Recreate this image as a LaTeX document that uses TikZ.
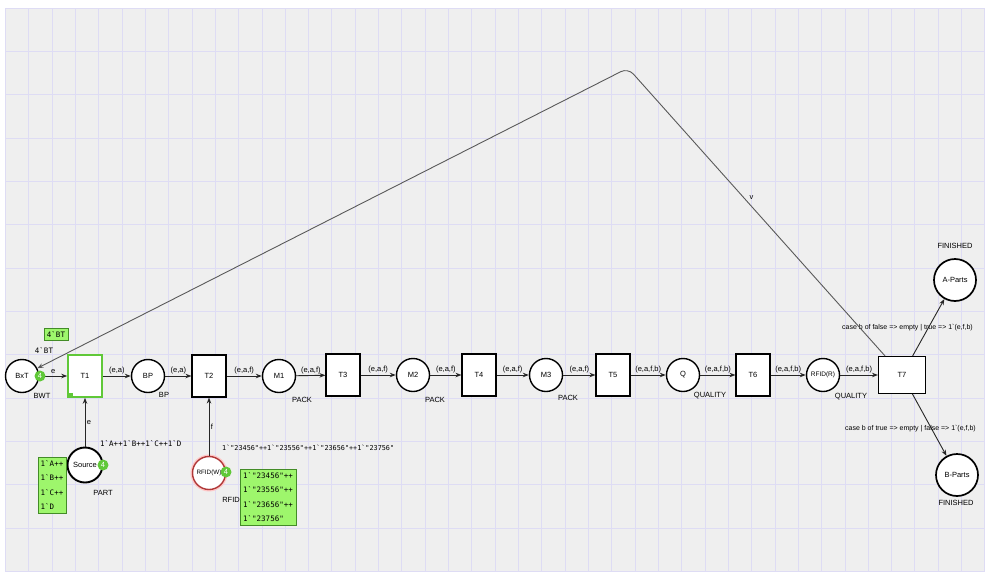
\documentclass[tikz,border=0pt]{standalone}
\usepackage{fontspec}
\setmainfont{Liberation Sans}
\setmonofont{DejaVu Sans Mono}
\usetikzlibrary{arrows.meta}

\definecolor{sheet-gray}{RGB}{239,239,239}
\definecolor{grid-lilac}{RGB}{222,220,244}
\definecolor{token-green}{RGB}{96,200,56}
\definecolor{marking-green}{RGB}{158,246,108}
\definecolor{rfid-red}{RGB}{176,56,56}

\newcommand{\cpnsans}{\fontsize{7.5}{8.5}\selectfont}
\newcommand{\cpnmono}{\ttfamily\fontsize{7.5}{14.5}\selectfont}
\newcommand{\bq}{\textasciigrave}

\tikzset{
    sheet-grid/.style = {draw=grid-lilac, line width=1pt},
    place-circle/.style = {draw, circle, fill=white, line width=1.4pt, minimum size=33pt, inner sep=0pt, font=\cpnsans},
    trans-box/.style = {draw, rectangle, fill=white, line width=1.1pt, minimum width=34pt, minimum height=42pt, inner sep=0pt, font=\cpnsans},
    token-dot/.style = {circle, fill=token-green, minimum size=11pt, inner sep=0pt, text=white, font=\cpnsans},
    marking-box/.style = {draw=token-green!70!black, fill=marking-green, thin, rectangle, inner sep=3pt, align=left, font=\cpnmono},
    arc-label/.style = {font=\cpnsans, inner sep=1.5pt},
    cs-label/.style = {font=\cpnsans, inner sep=0pt},
    init-label/.style = {font=\cpnmono, inner sep=0pt},
    arc-line/.style = {draw=black!85, line width=0.9pt, -{Stealth[length=6pt, width=4.5pt]}},
}

\begin{document}
\begin{tikzpicture}[x=1pt, y=-1pt]
\useasboundingbox (0,0) rectangle (991,581);
% sheet with grid
\fill[white] (0,0) rectangle (991,581);
\fill[sheet-gray] (5.5,8) rectangle (985,572);
\foreach \i in {0,...,42}
    \draw[sheet-grid] (5.5+\i*23.32,8) -- (5.5+\i*23.32,572);
\foreach \j in {0,...,13}
    \draw[sheet-grid] (5.5,8+\j*43.36) -- (985,8+\j*43.36);

% places and transitions
\node[place-circle] (bxt) at (22,376) {BxT};
\node[trans-box, draw=token-green, line width=1.6pt] (t1) at (85,376) {T1};
\fill[token-green] (t1.south west) rectangle ++(6,-5);
\node[place-circle] (bp) at (148,376) {BP};
\node[trans-box] (t2) at (209,376) {T2};
\node[place-circle] (m1) at (279,376) {M1};
\node[trans-box] (t3) at (343,375) {T3};
\node[place-circle] (m2) at (413,375) {M2};
\node[trans-box] (t4) at (479,375) {T4};
\node[place-circle] (m3) at (546,375) {M3};
\node[trans-box] (t5) at (613,375) {T5};
\node[place-circle] (q) at (683,375) {Q};
\node[trans-box] (t6) at (753,375) {T6};
\node[place-circle, font=\fontsize{6.5}{7}\selectfont] (rfidr) at (823,375) {RFID(R)};
\node[trans-box, minimum width=47pt, minimum height=37pt] (t7) at (902,375) {T7};
\node[place-circle, minimum size=42pt, line width=1.7pt] (aparts) at (955,280) {A-Parts};
\node[place-circle, minimum size=42pt, line width=1.7pt] (bparts) at (957,475) {B-Parts};
\node[place-circle, minimum size=35pt, line width=1.9pt] (source) at (85,465) {Source};
\node[place-circle, minimum size=33pt, draw=rfid-red, font=\fontsize{6.3}{7}\selectfont, preaction={draw=red!22, line width=4pt}] (rfidw) at (209,473) {RFID(W)};

% colour sets
\node[cs-label] (cs-bxt) at ([xshift=20pt, yshift=-20pt]bxt) {BWT};
\node[cs-label] (cs-bp) at ([xshift=16pt, yshift=-19pt]bp) {BP};
\node[cs-label] (cs-m1) at ([xshift=23pt, yshift=-24pt]m1) {PACK};
\node[cs-label] (cs-m2) at ([xshift=22pt, yshift=-25pt]m2) {PACK};
\node[cs-label] (cs-m3) at ([xshift=22pt, yshift=-23pt]m3) {PACK};
\node[cs-label] (cs-q) at ([xshift=27pt, yshift=-21pt]q) {QUALITY};
\node[cs-label] (cs-rfidr) at ([xshift=28pt, yshift=-22pt]rfidr) {QUALITY};
\node[cs-label] (cs-aparts) at ([yshift=34pt]aparts) {FINISHED};
\node[cs-label] (cs-bparts) at ([xshift=-1pt, yshift=-28pt]bparts) {FINISHED};
\node[cs-label] (cs-source) at ([xshift=18pt, yshift=-28pt]source) {PART};
\node[cs-label] (cs-rfidw) at ([xshift=22pt, yshift=-27pt]rfidw) {RFID};

% arcs of the main line
\draw[arc-line] (bxt) -- node[arc-label, above] (i-bxt) {e} (t1);
\draw[arc-line] (t1) -- node[arc-label, above] (i-t1) {(e,a)} (bp);
\draw[arc-line] (bp) -- node[arc-label, above] (i-bp) {(e,a)} (t2);
\draw[arc-line] (t2) -- node[arc-label, above] (i-t2) {(e,a,f)} (m1);
\draw[arc-line] (m1) -- node[arc-label, above] (i-m1) {(e,a,f)} (t3);
\draw[arc-line] (t3) -- node[arc-label, above] (i-t3) {(e,a,f)} (m2);
\draw[arc-line] (m2) -- node[arc-label, above] (i-m2) {(e,a,f)} (t4);
\draw[arc-line] (t4) -- node[arc-label, above] (i-t4) {(e,a,f)} (m3);
\draw[arc-line] (m3) -- node[arc-label, above] (i-m3) {(e,a,f)} (t5);
\draw[arc-line] (t5) -- node[arc-label, above] (i-t5) {(e,a,f,b)} (q);
\draw[arc-line] (q) -- node[arc-label, above] (i-q) {(e,a,f,b)} (t6);
\draw[arc-line] (t6) -- node[arc-label, above] (i-t6) {(e,a,f,b)} (rfidr);
\draw[arc-line] (rfidr) -- node[arc-label, above] (i-rfidr) {(e,a,f,b)} (t7);
\draw[arc-line] (source) -- node[arc-label, right] (i-source) {e} (t1);
\draw[arc-line] (rfidw) -- node[arc-label, right] (i-rfidw) {f} (t2);
\draw[arc-line] (t7) -- node[arc-label, midway, xshift=-21pt, font=\fontsize{7}{8}\selectfont] (i-aparts) {case b of false => empty | true => 1\bq(e,f,b)} (aparts);
\draw[arc-line] (t7) -- node[arc-label, midway, xshift=-19pt, yshift=-4pt, font=\fontsize{7}{8}\selectfont] (i-bparts) {case b of true => empty | false => 1\bq(e,f,b)} (bparts);

% arc back to the first place
\coordinate (bend) at (628,68);
\draw[arc-line, draw=black!65, rounded corners=8pt] (t7) -- node[arc-label, pos=0.55, right=4pt] (i-back) {v} (bend) -- (bxt);

% tokens and markings
\node[token-dot] (tok-bxt) at (40,376) {4};
\node[token-dot] (tok-source) at (103,465) {4};
\node[token-dot] (tok-rfidw) at (226,472) {4};
\node[init-label] (init-bxt) at (44,350) {4\bq BT};
\node[marking-box] (mark-bxt) at (56,334) {4\bq BT};
\node[init-label, anchor=west] (init-source) at (100,444) {1\bq A++1\bq B++1\bq C++1\bq D};
\node[marking-box] (mark-source) at (52,485) {1\bq A++\\1\bq B++\\1\bq C++\\1\bq D};
\node[init-label, anchor=west, font=\ttfamily\fontsize{6.8}{8}\selectfont] (init-rfidw) at (222,448) {1\bq "23456"++1\bq "23556"++1\bq "23656"++1\bq "23756"};
\node[marking-box] (mark-rfidw) at (268,497) {1\bq "23456"++\\1\bq "23556"++\\1\bq "23656"++\\1\bq "23756"};
\end{tikzpicture}
\end{document}
